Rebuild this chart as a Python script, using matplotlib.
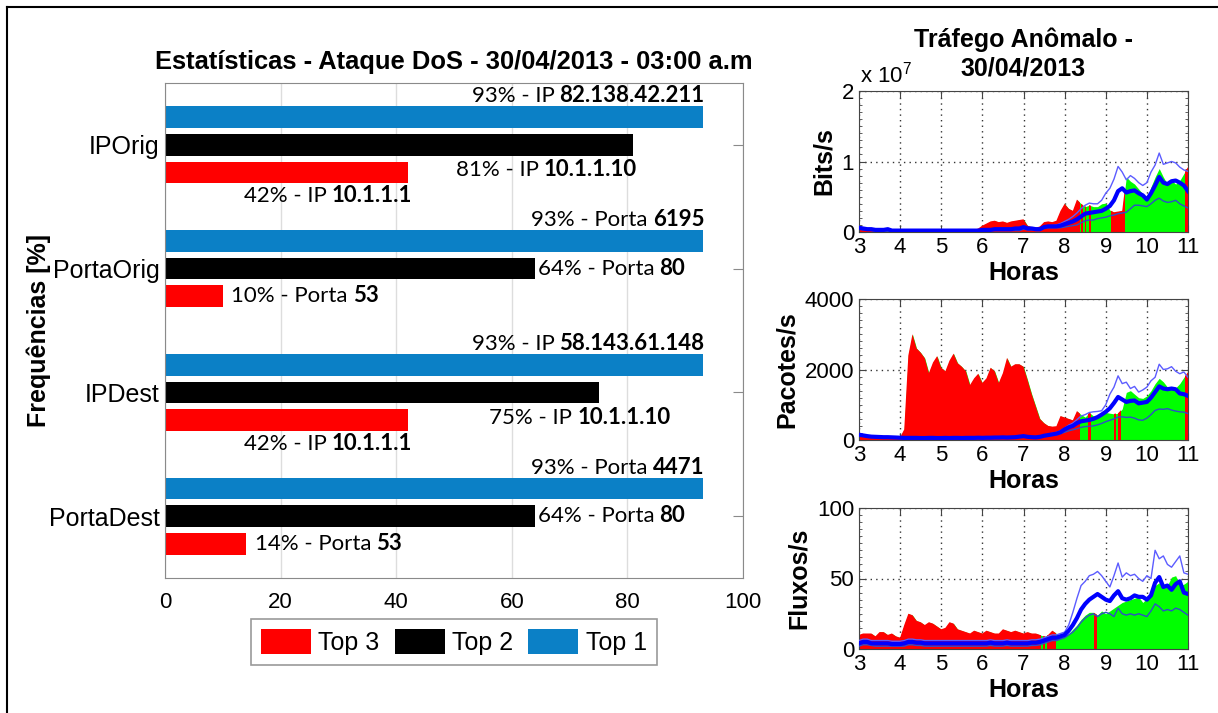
import numpy as np
import matplotlib
matplotlib.use("Agg")
import matplotlib.pyplot as plt
from matplotlib.lines import Line2D
from matplotlib.ticker import MultipleLocator

plt.rcParams['font.family'] = ['Liberation Sans', 'DejaVu Sans']
plt.rcParams['mathtext.fontset'] = 'custom'
plt.rcParams['mathtext.rm'] = 'Liberation Sans'
plt.rcParams['mathtext.default'] = 'regular'

# ---------------- bar statistics ----------------
categories = ['IPOrig', 'PortaOrig', 'IPDest', 'PortaDest']
top1 = [93, 93, 93, 93]
top2 = [81, 64, 75, 64]
top3 = [42, 10, 42, 14]
kinds = ['IP', 'Porta', 'IP', 'Porta']
top1_ids = ['82.138.42.211', '6195', '58.143.61.148', '4471']
top2_ids = ['10.1.1.10', '80', '10.1.1.10', '80']
top3_ids = ['10.1.1.1', '53', '10.1.1.1', '53']
legend_labels = ['Top 3', 'Top 2', 'Top 1']

# ---------------- traffic time series (hours 3.0 .. 11.0, step 0.1) ----------------
hours = np.round(np.arange(3.0, 11.0001, 0.1), 1)

# bits/s, in units of 10^7
bits_area = [0.08, 0.06, 0.05, 0.04, 0.03, 0.03, 0.03, 0.03, 0.03, 0.02,
             0.02, 0.02, 0.02, 0.02, 0.02, 0.03, 0.03, 0.02, 0.03, 0.02,
             0.02, 0.03, 0.02, 0.02, 0.03, 0.02, 0.02, 0.02, 0.03, 0.05,
             0.09, 0.12, 0.15, 0.16, 0.14, 0.15, 0.13, 0.15, 0.16, 0.17,
             0.18, 0.09, 0.07, 0.06, 0.08, 0.14, 0.15, 0.14, 0.16, 0.30,
             0.40, 0.33, 0.30, 0.46, 0.40, 0.36, 0.38, 0.36, 0.36, 0.40,
             0.41, 0.31, 0.28, 0.29, 0.30, 0.78, 0.72, 0.68, 0.61, 0.54,
             0.47, 0.64, 0.78, 0.90, 0.78, 0.68, 0.73, 0.68, 0.73, 0.83,
             0.92]
bits_mean = [0.06, 0.05, 0.04, 0.04, 0.03, 0.03, 0.03, 0.04, 0.02, 0.02,
             0.02, 0.02, 0.02, 0.02, 0.02, 0.02, 0.02, 0.02, 0.02, 0.02,
             0.02, 0.02, 0.02, 0.02, 0.02, 0.02, 0.02, 0.02, 0.02, 0.02,
             0.03, 0.03, 0.03, 0.04, 0.04, 0.04, 0.04, 0.04, 0.05, 0.05,
             0.07, 0.05, 0.05, 0.04, 0.04, 0.07, 0.08, 0.08, 0.08, 0.09,
             0.11, 0.13, 0.15, 0.18, 0.22, 0.26, 0.27, 0.28, 0.29, 0.30,
             0.33, 0.37, 0.45, 0.58, 0.62, 0.56, 0.58, 0.59, 0.55, 0.52,
             0.46, 0.55, 0.66, 0.78, 0.70, 0.68, 0.72, 0.73, 0.70, 0.66,
             0.58]
bits_upper = [0.08, 0.06, 0.05, 0.05, 0.04, 0.04, 0.04, 0.05, 0.03, 0.03,
              0.03, 0.03, 0.03, 0.03, 0.03, 0.03, 0.03, 0.03, 0.03, 0.03,
              0.03, 0.03, 0.03, 0.03, 0.03, 0.03, 0.03, 0.03, 0.03, 0.03,
              0.04, 0.04, 0.04, 0.05, 0.05, 0.05, 0.05, 0.05, 0.06, 0.06,
              0.08, 0.06, 0.06, 0.05, 0.05, 0.08, 0.09, 0.09, 0.10, 0.12,
              0.15, 0.18, 0.22, 0.27, 0.33, 0.38, 0.41, 0.40, 0.40, 0.45,
              0.55, 0.62, 0.75, 0.93, 0.85, 0.74, 0.80, 0.76, 0.70, 0.66,
              0.70, 0.85, 0.95, 1.12, 0.96, 0.98, 1.00, 0.98, 0.92, 0.88,
              0.86]
bits_lower = [0.04, 0.03, 0.03, 0.02, 0.01, 0.01, 0.01, 0.01, 0.01, 0.01,
              0.01, 0.01, 0.01, 0.01, 0.01, 0.01, 0.01, 0.01, 0.01, 0.01,
              0.01, 0.01, 0.01, 0.01, 0.01, 0.01, 0.01, 0.01, 0.01, 0.01,
              0.02, 0.02, 0.02, 0.02, 0.02, 0.02, 0.02, 0.02, 0.02, 0.02,
              0.04, 0.03, 0.03, 0.02, 0.02, 0.05, 0.06, 0.06, 0.06, 0.06,
              0.07, 0.08, 0.09, 0.10, 0.13, 0.16, 0.17, 0.17, 0.19, 0.20,
              0.21, 0.23, 0.24, 0.26, 0.27, 0.28, 0.33, 0.38, 0.38, 0.37,
              0.36, 0.40, 0.45, 0.48, 0.44, 0.42, 0.43, 0.45, 0.40, 0.37,
              0.34]
bits_anomalous = [(3.0, 8.38), (8.41, 8.44), (8.50, 8.53), (8.60, 8.64),
                  (9.12, 9.48), (10.92, 11.0)]

# packets/s
pkts_area = [210, 170, 130, 110, 100, 95, 90, 85, 80, 80,
             75, 300, 2400, 3000, 2600, 2480, 2320, 1900, 2200, 2380,
             2050, 1950, 2250, 2450, 2180, 2080, 1950, 1560, 1750, 1880,
             1620, 1750, 2050, 1950, 1620, 1900, 2330, 2080, 2150, 2150,
             2080, 1700, 1300, 950, 600, 480, 400, 380, 390, 680,
             640, 600, 560, 820, 720, 650, 780, 680, 700, 720,
             780, 760, 740, 760, 880, 1350, 1400, 1300, 1200, 1180,
             1250, 1400, 1600, 1750, 1650, 1500, 1450, 1480, 1600, 1780,
             1920]
pkts_mean = [150, 130, 110, 95, 90, 85, 80, 80, 75, 70,
             65, 60, 60, 60, 60, 55, 55, 60, 60, 55,
             55, 60, 55, 60, 60, 55, 60, 60, 60, 65,
             60, 65, 65, 70, 70, 75, 70, 75, 80, 95,
             110, 90, 80, 75, 90, 120, 140, 160, 180, 220,
             300, 360, 400, 480, 530, 550, 570, 600, 650, 720,
             800, 900, 1050, 1220, 1150, 1080, 1110, 1120, 1040, 1060,
             1080, 1200, 1360, 1520, 1460, 1440, 1460, 1440, 1320, 1300,
             1250]
pkts_upper = [180, 150, 125, 110, 100, 95, 90, 90, 85, 80,
              75, 70, 70, 70, 70, 65, 65, 70, 70, 65,
              65, 70, 65, 70, 70, 65, 70, 70, 70, 75,
              70, 75, 75, 80, 80, 85, 80, 85, 90, 110,
              130, 105, 95, 90, 105, 140, 165, 190, 215, 260,
              340, 420, 480, 580, 680, 720, 780, 800, 810, 830,
              1000, 1300, 1500, 1820, 1600, 1640, 1460, 1520, 1360, 1420,
              1500, 1680, 1780, 2150, 2000, 2020, 2080, 1950, 1880, 1930,
              1780]
pkts_lower = [120, 110, 95, 80, 75, 70, 65, 65, 60, 55,
              50, 50, 50, 50, 50, 45, 45, 50, 50, 45,
              45, 50, 45, 50, 50, 45, 50, 50, 50, 55,
              50, 55, 55, 60, 60, 65, 60, 65, 70, 80,
              90, 75, 70, 65, 75, 100, 115, 130, 150, 180,
              220, 260, 290, 320, 360, 380, 390, 400, 430, 470,
              520, 560, 600, 650, 660, 640, 650, 620, 570, 560,
              620, 720, 840, 880, 870, 890, 850, 820, 800, 790,
              750]
pkts_anomalous = [(3.0, 8.37), (8.57, 8.63), (9.20, 9.25), (9.30, 9.37),
                  (10.93, 11.0)]

# flows/s
flows_area = [10, 11, 11, 11, 9, 12, 12, 10, 11, 9,
              8, 17, 25, 24, 20, 19, 17, 19, 18, 16,
              14, 15, 19, 18, 14, 13, 12, 11, 13, 12,
              11, 13, 12, 11, 11, 14, 13, 12, 13, 12,
              11, 12, 11, 11, 10, 9, 10, 13, 11, 9,
              9, 11, 14, 17, 21, 24, 26, 26, 24, 27,
              25, 27, 29, 31, 33, 34, 35, 36, 37, 33,
              36, 41, 45, 47, 44, 45, 51, 52, 45, 46,
              48]
flows_mean = [4, 5, 5, 4, 4, 4, 4, 4, 3.5, 3.5,
              3.5, 4, 5, 5, 4.5, 4.5, 4, 4, 4, 4,
              4, 4, 4, 4, 4, 4, 4, 4, 4, 4,
              4, 4, 4.5, 4, 4, 4, 4.5, 4, 4, 4,
              4, 4, 4.5, 4.5, 5, 6, 7, 8, 8, 9,
              10, 13, 17, 22, 28, 32, 35, 37, 39, 37,
              35, 34, 38, 41, 36, 35, 36, 38, 37, 37,
              35, 38, 47, 51, 44, 45, 42, 46, 48, 40,
              39]
flows_upper = [6, 7, 7, 6, 6, 6, 6, 6, 5.5, 5.5,
               5.5, 6, 7, 7, 6.5, 6.5, 6, 6, 6, 6,
               6, 6, 6, 6, 6, 6, 6, 6, 6, 6,
               6, 6, 6.5, 6, 6, 6, 6.5, 6, 6, 6,
               6, 6, 6.5, 6.5, 7, 8, 9, 10, 10, 11,
               12, 17, 26, 36, 45, 48, 52, 53, 55, 52,
               48, 44, 52, 61, 51, 54, 52, 53, 50, 48,
               52, 50, 70, 64, 66, 60, 58, 62, 66, 54,
               53]
flows_lower = [2, 3, 3, 2.5, 2, 2, 2, 2, 2, 2,
               2, 2, 3, 3, 2.5, 2.5, 2, 2, 2, 2,
               2, 2, 2, 2, 2, 2, 2, 2, 2, 2,
               2, 2, 2.5, 2, 2, 2, 2.5, 2, 2, 2,
               2, 2, 2.5, 2.5, 3, 4, 5, 6, 6, 7,
               8, 10, 12, 15, 19, 22, 24, 25, 23, 25,
               26, 25, 23, 29, 25, 24, 25, 24, 25, 24,
               23, 27, 32, 30, 27, 28, 27, 29, 28, 26,
               24]
flows_anomalous = [(3.0, 7.43), (7.47, 7.53), (7.57, 7.80), (8.72, 8.78)]

# ---------------- figure ----------------
W, H = 1218, 713
fig = plt.figure(figsize=(W / 100, H / 100), dpi=100)


def rect(x0, y0, x1, y1):
    return [x0 / W, 1 - y1 / H, (x1 - x0) / W, (y1 - y0) / H]


RED, BLACK, BLUE, GREEN = '#ff0000', '#000000', '#0b80c6', '#00ff00'
LABEL_FONT = ['Lato', 'DejaVu Sans']
LFS = 16

# ---- bar chart ----
ax = fig.add_axes(rect(165, 83, 743, 578))
pos = np.arange(1, len(categories) + 1)
step, hgt = 0.223, 0.175
b1 = ax.barh(pos - step, top1, height=hgt, color=BLUE, zorder=2)
b2 = ax.barh(pos, top2, height=hgt, color=BLACK, zorder=2)
b3 = ax.barh(pos + step, top3, height=hgt, color=RED, zorder=2)
ax.set_ylim(4.5, 0.5)
ax.set_xlim(0, 100)
ax.set_xticks([0, 20, 40, 60, 80, 100])
ax.set_yticks(pos)
ax.set_yticklabels(categories)
ax.xaxis.grid(True, color='#dddddd', lw=1)
ax.set_axisbelow(True)
for s in ax.spines.values():
    s.set_color('#8a8a8a')
ax.tick_params(axis='y', direction='in', left=True, right=True, length=7,
               color='#8a8a8a', labelsize=18, pad=4)
ax.tick_params(axis='x', direction='in', bottom=True, top=True, length=0,
               labelsize=16, pad=10)
ax.set_title('Estatísticas - Ataque DoS - 30/04/2013 - 03:00 a.m',
             fontsize=18.4, fontweight='bold', pad=10)
ax.set_ylabel('Frequências [%]', fontsize=18, fontweight='bold')
ax.yaxis.set_label_coords(-0.198, 0.5)


def value_label(x, y, plain, bold, ha):
    kw = dict(fontsize=LFS, family=LABEL_FONT, zorder=5)
    if ha == 'left':
        t = ax.text(x, y, plain, ha='left', va='center', **kw)
        ax.annotate(bold, xy=(1, 0), xycoords=t, xytext=(3.5, 0),
                    textcoords='offset points', ha='left', va='bottom',
                    fontweight='bold', **kw)
    else:
        t = ax.text(x, y, bold, ha='right', va='center', fontweight='bold', **kw)
        ax.annotate(plain, xy=(0, 0), xycoords=t, xytext=(-3.5, 0),
                    textcoords='offset points', ha='right', va='bottom', **kw)


for i, p in enumerate(pos):
    value_label(top1[i] + 0.3, p - 0.395, f'{top1[i]}% - {kinds[i]}', top1_ids[i], 'right')

# second-ranked labels
value_label(top2[0] + 0.6, pos[0] + 0.195, f'{top2[0]}% - {kinds[0]}', top2_ids[0], 'right')
value_label(top2[1] + 0.5, pos[1], f'{top2[1]}% - {kinds[1]}', top2_ids[1], 'left')
value_label(top2[2] + 12.4, pos[2] + 0.2, f'{top2[2]}% - {kinds[2]}', top2_ids[2], 'right')
value_label(top2[3] + 0.5, pos[3], f'{top2[3]}% - {kinds[3]}', top2_ids[3], 'left')
# third-ranked labels
value_label(top3[0] + 0.7, pos[0] + 0.41, f'{top3[0]}% - {kinds[0]}', top3_ids[0], 'right')
value_label(top3[1] + 1.5, pos[1] + 0.225, f'{top3[1]}% - {kinds[1]}', top3_ids[1], 'left')
value_label(top3[2] + 0.7, pos[2] + 0.41, f'{top3[2]}% - {kinds[2]}', top3_ids[2], 'right')
value_label(top3[3] + 1.5, pos[3] + 0.225, f'{top3[3]}% - {kinds[3]}', top3_ids[3], 'left')

leg = ax.legend([b3, b2, b1], legend_labels, loc='upper center',
                bbox_to_anchor=(0.5, -0.082), ncol=3, fontsize=18,
                frameon=True, fancybox=False, edgecolor='#808080',
                handlelength=2.0, handleheight=1.2, handletextpad=0.3,
                columnspacing=0.6, borderpad=0.4, borderaxespad=0)
leg.get_frame().set_linewidth(1.2)

# ---- traffic panels ----
panels = [
    (rect(859, 91, 1188, 232), bits_area, bits_mean, bits_upper, bits_lower,
     bits_anomalous, (0, 2), 1, 0.1, 'Bits/s'),
    (rect(859, 299, 1188, 440), pkts_area, pkts_mean, pkts_upper, pkts_lower,
     pkts_anomalous, (0, 4000), 2000, 200, 'Pacotes/s'),
    (rect(859, 508, 1188, 649), flows_area, flows_mean, flows_upper, flows_lower,
     flows_anomalous, (0, 100), 50, 5, 'Fluxos/s'),
]
taxes = []
for (r, area, mean, upper, lower, spans, ylim, major, minor, ylab) in panels:
    tax = fig.add_axes(r)
    fill = tax.fill_between(hours, 0, area, color=GREEN, lw=0, zorder=1)
    clip = fill.get_paths()[0]
    for a, b in spans:
        sp = tax.axvspan(a, b, color=RED, lw=0, zorder=1.5)
        sp.set_clip_path(clip, tax.transData)
    tax.plot(hours, upper, color='#5c5cff', lw=1.0, zorder=3)
    tax.plot(hours, lower, color='#2e4ec8', lw=1.0, zorder=3)
    tax.plot(hours, mean, color='#0000ff', lw=3.0, zorder=4)
    tax.set_xlim(3, 11)
    tax.set_ylim(*ylim)
    tax.set_xticks(np.arange(3, 12))
    tax.yaxis.set_major_locator(MultipleLocator(major))
    tax.yaxis.set_minor_locator(MultipleLocator(minor))
    tax.grid(True, which='major', linestyle=(0, (1, 3)), color='#333333', lw=1.0)
    tax.set_axisbelow(True)
    for s in tax.spines.values():
        s.set_color('#444444')
    tax.tick_params(which='both', direction='in', top=True, right=True,
                    color='#444444', labelsize=16)
    tax.tick_params(which='major', length=5)
    tax.tick_params(which='minor', length=2.5)
    tax.set_xlabel('Horas', fontsize=18, fontweight='bold', labelpad=2)
    tax.set_ylabel(ylab, fontsize=18, fontweight='bold', labelpad=4)
    taxes.append(tax)

taxes[0].text(0.003, 1.057, r'x 10$^{7}$', transform=taxes[0].transAxes,
              ha='left', va='baseline', fontsize=16)
taxes[0].set_title('Tráfego Anômalo -\n30/04/2013', fontsize=18,
                   fontweight='bold', pad=11, linespacing=1.25)

# outer frame
fig.add_artist(Line2D([7 / W, 7 / W], [0, 1 - 7 / H], color='k', lw=1.5,
                      transform=fig.transFigure))
fig.add_artist(Line2D([7 / W, 1], [1 - 7 / H, 1 - 7 / H], color='k', lw=1.5,
                      transform=fig.transFigure))

fig.savefig('out.png', dpi=100, facecolor='white')
